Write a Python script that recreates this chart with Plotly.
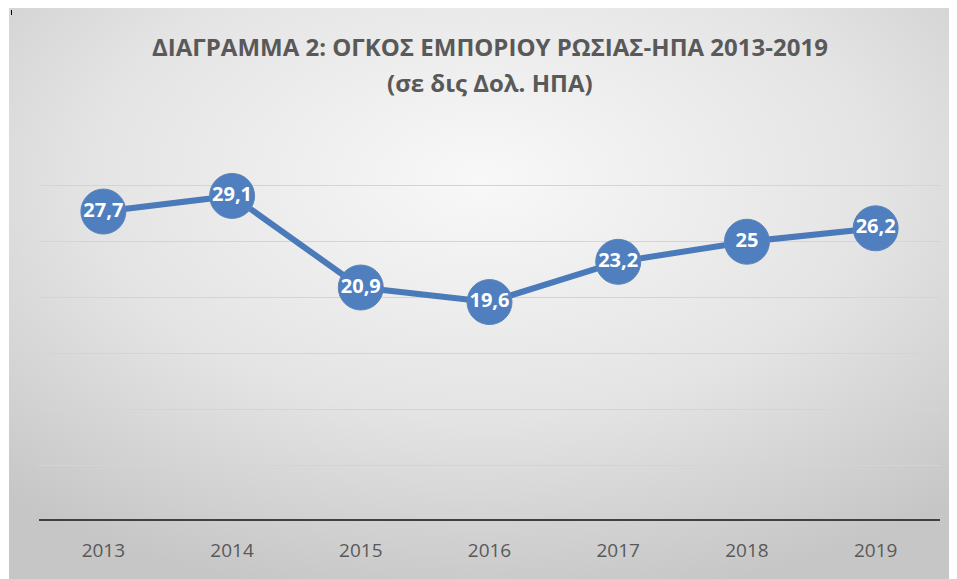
import base64
import plotly.graph_objects as go

years = ["2013", "2014", "2015", "2016", "2017", "2018", "2019"]
values = [27.7, 29.1, 20.9, 19.6, 23.2, 25.0, 26.2]
labels = ["27,7", "29,1", "20,9", "19,6", "23,2", "25", "26,2"]
title_line1 = "ΔΙΑΓΡΑΜΜΑ 2: ΟΓΚΟΣ ΕΜΠΟΡΙΟΥ ΡΩΣΙΑΣ-ΗΠΑ 2013-2019"
title_line2 = "(σε δις Δολ. ΗΠΑ)"

OFF = 8  # page body margin
W, H = 957 - OFF, 579 - OFF


def px(x):
    return (x - OFF) / W


def py(y):
    return 1 - (y - OFF) / H


svg = (
    '<svg xmlns="http://www.w3.org/2000/svg" width="948" height="572" preserveAspectRatio="none">'
    '<defs><radialGradient id="g" cx="50%" cy="30%" r="75%">'
    '<stop offset="0" stop-color="#f8f8f8"/>'
    '<stop offset="0.55" stop-color="#e4e4e4"/>'
    '<stop offset="1" stop-color="#c6c6c6"/>'
    '</radialGradient></defs>'
    '<rect width="948" height="572" fill="url(#g)"/>'
    '</svg>'
)
src = "data:image/svg+xml;base64," + base64.b64encode(svg.encode()).decode()

fig = go.Figure()
fig.add_trace(go.Scatter(
    x=years, y=values, text=labels,
    mode="lines+markers+text",
    line=dict(color="#4a7ab9", width=6),
    marker=dict(size=45, color="#4f7fbf", line=dict(color="#5d84b8", width=1)),
    textposition="middle center",
    textfont=dict(family="Open Sans", size=20, color="white", weight="bold"),
    cliponaxis=False,
    hoverinfo="skip",
))

title_font = dict(family="Open Sans", size=24, color="#595959", weight="bold")

fig.update_layout(
    width=W, height=H,
    margin=dict(l=0, r=0, t=0, b=0),
    paper_bgcolor="white",
    plot_bgcolor="rgba(0,0,0,0)",
    showlegend=False,
    images=[dict(source=src, xref="paper", yref="paper",
                 x=px(9), y=1, sizex=1 - px(9), sizey=1,
                 xanchor="left", yanchor="top", sizing="stretch", layer="below")],
    annotations=[
        dict(text=title_line1, xref="paper", yref="paper", x=px(490), y=py(47),
             xanchor="center", yanchor="middle", showarrow=False, font=title_font),
        dict(text=title_line2, xref="paper", yref="paper", x=px(490), y=py(82),
             xanchor="center", yanchor="middle", showarrow=False, font=title_font),
    ],
    xaxis=dict(
        type="category", domain=[px(39), px(940)], range=[-0.5, 6.5],
        showgrid=False, zeroline=False, showline=False,
        ticks="", tickfont=dict(family="Open Sans", size=19, color="#595959"),
        ticklabelstandoff=16,
    ),
    yaxis=dict(
        domain=[py(521), py(130)], range=[0, 35], dtick=5,
        showgrid=True, gridcolor="#d4d4d4", gridwidth=1,
        showticklabels=False, zeroline=False, showline=False, ticks="",
    ),
    shapes=[
        dict(type="line", xref="paper", yref="y", x0=px(39), x1=px(940), y0=0, y1=0,
             line=dict(color="#404040", width=4), layer="below"),
        dict(type="line", xref="paper", yref="paper", x0=px(9), x1=1, y0=py(7.5), y1=py(7.5),
             line=dict(color="#bdbdbd", width=1)),
        dict(type="line", xref="paper", yref="paper", x0=px(11.5), x1=px(11.5), y0=py(10), y1=py(15),
             line=dict(color="#000000", width=1)),
    ],
)

fig.write_html("out.html")
